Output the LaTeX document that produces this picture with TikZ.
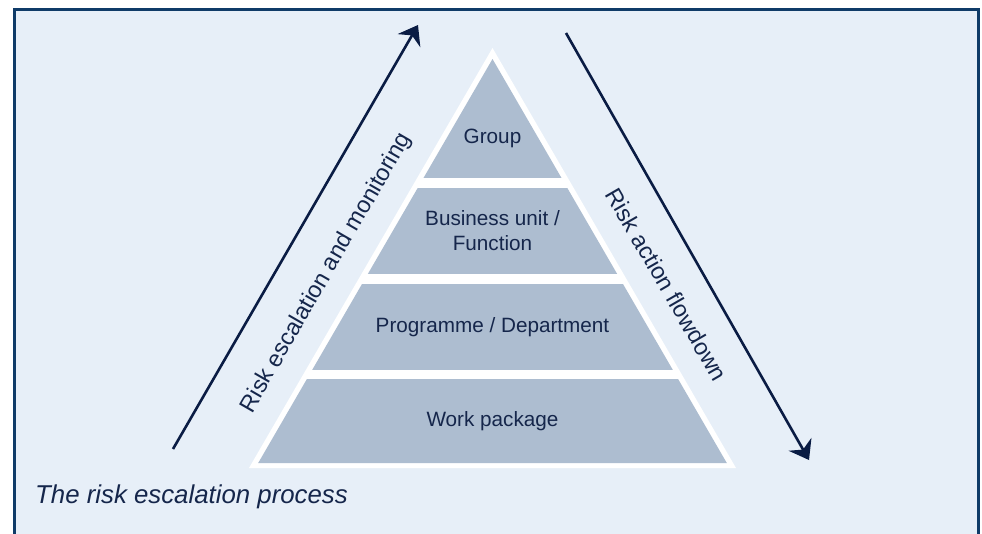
\documentclass[tikz,border=0pt]{standalone}
\usepackage{fontspec}
\setmainfont{Liberation Sans}
\usetikzlibrary{arrows.meta}

\definecolor{panelbg}{HTML}{E7EFF8}
\definecolor{panelframe}{HTML}{0F3B68}
\definecolor{bandgray}{HTML}{ADBDD0}
\definecolor{inknavy}{HTML}{15264B}
\definecolor{arrownavy}{HTML}{0A1C44}

\begin{document}
\begin{tikzpicture}[x=1pt,y=-1pt,
  level/.style={text=inknavy, font=\fontsize{20.7}{25}\selectfont, align=center, inner sep=0pt},
  sidelabel/.style={text=inknavy, font=\fontsize{23.4}{28}\selectfont, inner sep=0pt},
  caption/.style={text=inknavy, font=\fontsize{25.8}{30}\selectfont\itshape, inner sep=0pt},
  flow/.style={draw=arrownavy, line width=2.6pt, -{Stealth[length=18pt,width=26pt,inset=6pt]}},
  band/.style={fill=bandgray},
]
\useasboundingbox (0,0) rectangle (982,533);
\fill[white] (0,0) rectangle (982,533);

% panel with dark frame
\filldraw[fill=panelbg, draw=panelframe, line width=3pt] (14.5,9.5) rectangle (978.2,560);

% white pyramid outline
\coordinate (outerapex) at (492.5,48);
\coordinate (outerleft) at (249,468);
\coordinate (outerright) at (736,468);
\fill[white] (outerapex) -- (outerright) -- (outerleft) -- cycle;

% grey levels, cut from the inner triangle
\coordinate (innerapex) at (492.5,59);
\coordinate (innerleft) at (258.2,463);
\coordinate (innerright) at (726.8,463);
\begin{scope}
  \clip (innerapex) -- (innerright) -- (innerleft) -- cycle;
  \fill[band] (240,50) rectangle (745,178);
  \fill[band] (240,188) rectangle (745,274);
  \fill[band] (240,283.5) rectangle (745,370);
  \fill[band] (240,379) rectangle (745,470);
\end{scope}

% level labels
\node[level] (group) at (492.5,138) {Group};
\node[level] (unit) at (492.5,231) {Business unit /\\Function};
\node[level] (programme) at (492.5,327.5) {Programme / Department};
\node[level] (work) at (492.5,421) {Work package};

% escalation and flowdown arrows
\coordinate (escstart) at (173,449);
\coordinate (escend) at (418,25);
\coordinate (flowstart) at (566,33);
\coordinate (flowend) at (809,460);
\draw[flow] (escstart) -- (escend);
\draw[flow] (flowstart) -- (flowend);

\node[sidelabel, rotate=60] (esclabel) at (326.5,273) {Risk escalation and monitoring};
\node[sidelabel, rotate=-60] (flowlabel) at (666.7,284.5) {Risk action flowdown};

% caption
\node[caption, anchor=base west] (title) at (35,503) {The risk escalation process};
\end{tikzpicture}
\end{document}
